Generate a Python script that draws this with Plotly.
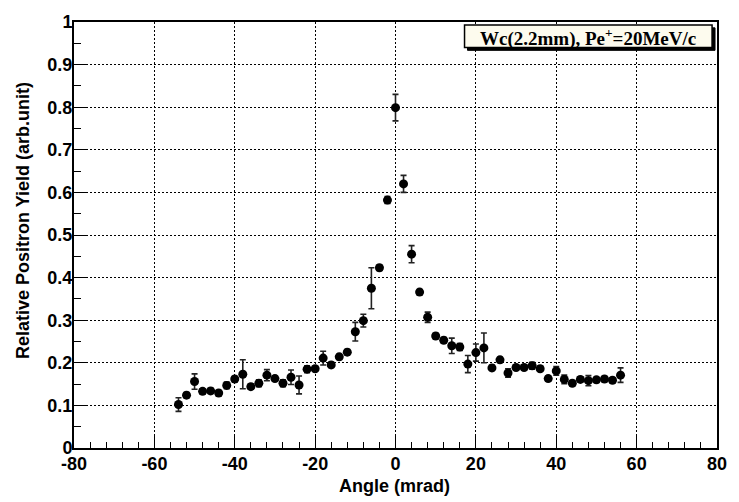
import plotly.graph_objects as go

angle = [-54, -52, -50, -48, -46, -44, -42, -40, -38, -36, -34, -32, -30, -28,
         -26, -24, -22, -20, -18, -16, -14, -12, -10, -8, -6, -4, -2, 0,
         2, 4, 6, 8, 10, 12, 14, 16, 18, 20, 22, 24, 26, 28, 30, 32,
         34, 36, 38, 40, 42, 44, 46, 48, 50, 52, 54, 56]
yield_ = [0.102, 0.124, 0.156, 0.133, 0.134, 0.129, 0.147, 0.162, 0.173, 0.144,
          0.152, 0.171, 0.163, 0.152, 0.166, 0.148, 0.185, 0.186, 0.211, 0.195,
          0.214, 0.225, 0.273, 0.299, 0.375, 0.423, 0.582, 0.799,
          0.620, 0.455, 0.366, 0.307, 0.263, 0.253, 0.240, 0.237, 0.197, 0.224,
          0.235, 0.188, 0.207, 0.176, 0.189, 0.189, 0.193, 0.186, 0.163, 0.181,
          0.161, 0.152, 0.161, 0.158, 0.160, 0.162, 0.159, 0.171]
err = [0.016, 0.006, 0.018, 0.006, 0.006, 0.006, 0.008, 0.006, 0.034, 0.006,
       0.008, 0.013, 0.006, 0.008, 0.017, 0.021, 0.008, 0.006, 0.016, 0.006,
       0.006, 0.006, 0.022, 0.015, 0.048, 0.006, 0.008, 0.031,
       0.020, 0.020, 0.006, 0.012, 0.006, 0.006, 0.018, 0.008, 0.020, 0.020,
       0.035, 0.006, 0.006, 0.010, 0.006, 0.006, 0.008, 0.006, 0.006, 0.010,
       0.010, 0.006, 0.006, 0.012, 0.006, 0.006, 0.006, 0.017]

x_ticks = [-80, -60, -40, -20, 0, 20, 40, 60, 80]
x_ticklabels = ["-80", "-60", "-40", "-20", "0", "20", "40", "60", "80"]
y_ticks = [0, 0.1, 0.2, 0.3, 0.4, 0.5, 0.6, 0.7, 0.8, 0.9, 1]
y_ticklabels = ["0", "0.1", "0.2", "0.3", "0.4", "0.5", "0.6", "0.7", "0.8", "0.9", "1"]

x_title = "Angle (mrad)"
y_title = "Relative Positron Yield (arb.unit)"
legend_text = "Wc(2.2mm), Pe<sup>+</sup>=20MeV/c"

W, H = 739, 502
L, R, T, B = 74, 13, 12, 54
pw, ph = W - L - R, H - T - B

def px(x):
    return (x - L) / pw

def py(y):
    return (H - B - y) / ph

fig = go.Figure()
fig.add_trace(go.Scatter(
    x=angle, y=yield_, mode="markers",
    marker=dict(color="black", size=9, symbol="circle"),
    error_y=dict(type="data", array=err, visible=True, color="#222222",
                 thickness=1.6, width=3),
    showlegend=False,
))

SANS = "Liberation Sans"
tickfont = dict(family=SANS, size=18, color="black", weight="bold")

fig.update_layout(
    width=W, height=H,
    margin=dict(l=L, r=R, t=T, b=B),
    paper_bgcolor="white", plot_bgcolor="white",
    xaxis=dict(
        range=[-80, 80], tickmode="array", tickvals=x_ticks,
        ticktext=x_ticklabels,
        showgrid=True, gridcolor="black", griddash="2px,2px", gridwidth=1,
        zeroline=False, showline=True, linecolor="black", linewidth=2,
        mirror=True, ticks="inside", ticklen=12, tickwidth=1, tickcolor="black",
        minor=dict(ticks="inside", ticklen=6, dtick=4, tick0=-80,
                   tickcolor="black", showgrid=False),
        tickfont=tickfont, ticklabelstandoff=-2,
    ),
    yaxis=dict(
        range=[0, 1], tickmode="array", tickvals=y_ticks,
        ticktext=y_ticklabels,
        showgrid=True, gridcolor="black", griddash="2px,2px", gridwidth=1,
        zeroline=False, showline=True, linecolor="black", linewidth=2,
        mirror=True, ticks="inside", ticklen=13, tickwidth=1, tickcolor="black",
        minor=dict(ticks="inside", ticklen=7, dtick=0.05, tick0=0,
                   tickcolor="black", showgrid=False),
        tickfont=tickfont, ticklabelstandoff=-4,
    ),
)

# axis titles as annotations for precise placement
fig.add_annotation(xref="paper", yref="paper", x=px(399), y=py(487),
                   text=x_title, showarrow=False,
                   xanchor="center", yanchor="middle",
                   font=dict(family=SANS, size=18, color="black", weight="bold"))
fig.add_annotation(xref="paper", yref="paper", x=px(23), y=py(215),
                   text=y_title, showarrow=False, textangle=-90,
                   xanchor="center", yanchor="middle",
                   font=dict(family=SANS, size=18, color="black", weight="bold"))

# legend pave with shadow
bx0, bx1, by0, by1 = 470, 721, 15, 38
fig.add_shape(type="rect", xref="paper", yref="paper",
              x0=px(bx0 + 3), x1=px(bx1 + 3), y0=py(by1 + 3), y1=py(by0 + 3),
              fillcolor="black", line=dict(color="black", width=1))
fig.add_shape(type="rect", xref="paper", yref="paper",
              x0=px(bx0), x1=px(bx1), y0=py(by1), y1=py(by0),
              fillcolor="#fdfbee", line=dict(color="black", width=1.5))
fig.add_annotation(xref="paper", yref="paper",
                   x=px((bx0 + bx1) / 2), y=py((by0 + by1) / 2 + 1),
                   text=legend_text, showarrow=False,
                   xanchor="center", yanchor="middle",
                   font=dict(family="Liberation Serif", size=19, color="black",
                             weight="bold"))

fig.write_html("out.html")
